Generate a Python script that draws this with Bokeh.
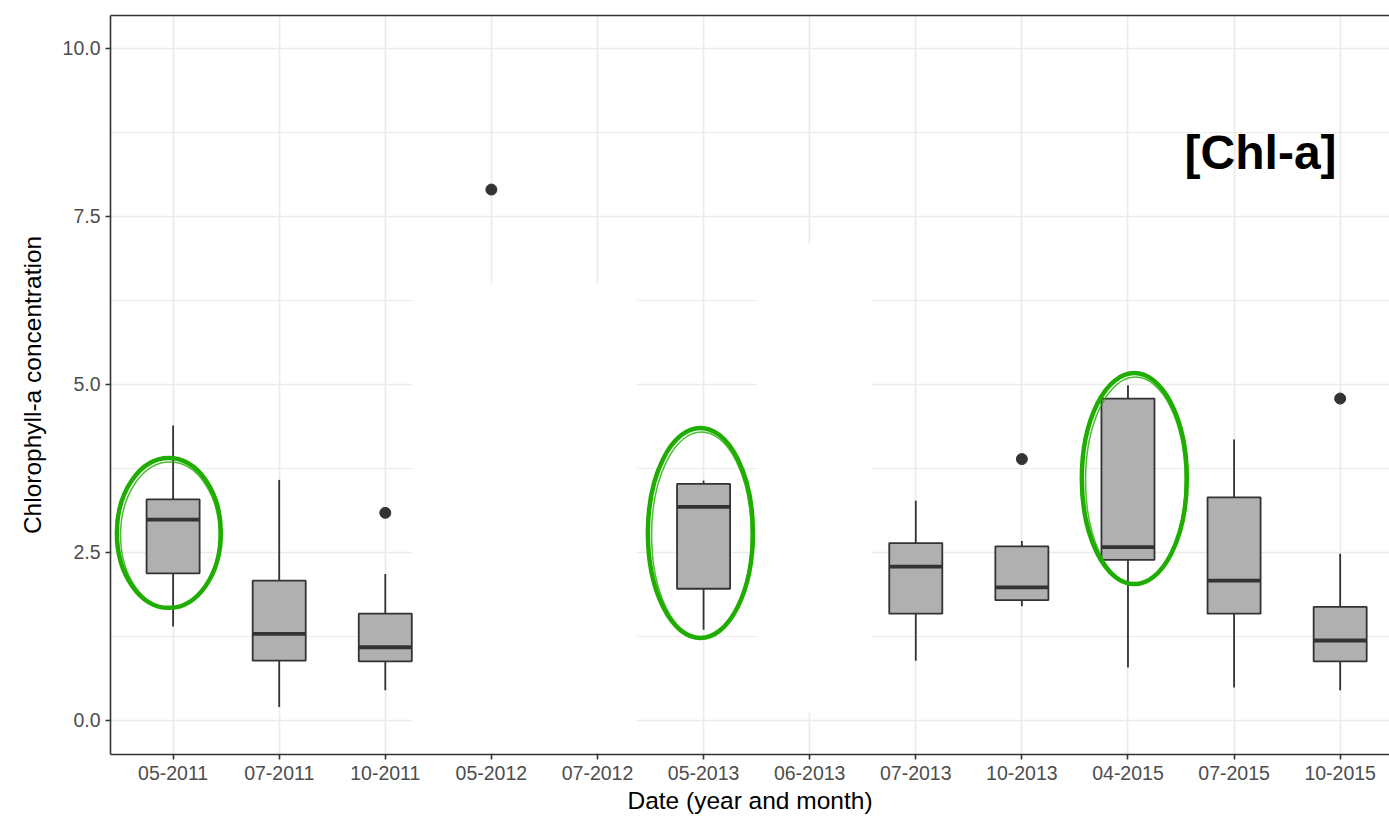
import numpy as np
from bokeh.plotting import figure
from bokeh.models import (Range1d, FixedTicker, LinearAxis, BoxAnnotation, Label,
                          PrintfTickFormatter)
from bokeh.embed import file_html
from bokeh.resources import INLINE

# ---------------- data ----------------
dates = ["05-2011", "07-2011", "10-2011", "05-2012", "07-2012", "05-2013",
         "06-2013", "07-2013", "10-2013", "04-2015", "07-2015", "10-2015"]

box_dates = ["05-2011", "07-2011", "10-2011", "05-2013", "07-2013",
             "10-2013", "04-2015", "07-2015", "10-2015"]
whisker_low = [1.40, 0.20, 0.45, 1.35, 0.89, 1.70, 0.79, 0.49, 0.45]
q1 = [2.19, 0.89, 0.88, 1.96, 1.59, 1.79, 2.39, 1.59, 0.88]
median = [2.99, 1.29, 1.09, 3.18, 2.29, 1.98, 2.58, 2.08, 1.19]
q3 = [3.29, 2.08, 1.59, 3.52, 2.64, 2.59, 4.79, 3.32, 1.69]
whisker_high = [4.39, 3.58, 2.18, 3.57, 3.27, 2.67, 4.99, 4.18, 2.48]

outlier_dates = ["10-2011", "05-2012", "10-2013", "10-2015"]
outlier_values = [3.09, 7.90, 3.89, 4.79]

circled_dates = ["05-2011", "05-2013", "04-2015"]

y_ticks = [0.0, 2.5, 5.0, 7.5, 10.0]
y_minor = [1.25, 3.75, 6.25, 8.75]

# ---------------- positions ----------------
pos = {d: i + 1 for i, d in enumerate(dates)}
bx = np.array([pos[d] for d in box_dates], dtype=float)
ox = [pos[d] for d in outlier_dates]
BOX_W = 0.5

p = figure(width=1389, height=817,
           x_range=Range1d(0.41, 12.465), y_range=Range1d(-0.506, 10.49),
           output_backend="svg", toolbar_location=None,
           min_border_left=110, min_border_right=0,
           min_border_top=15, min_border_bottom=63,
           background_fill_color="white", border_fill_color="white")
p.outline_line_color = None

FONT = "Liberation Sans"

# axes
p.xaxis.ticker = FixedTicker(ticks=list(range(1, len(dates) + 1)))
p.xaxis.major_label_overrides = {i + 1: d for i, d in enumerate(dates)}
p.yaxis.ticker = FixedTicker(ticks=y_ticks, minor_ticks=y_minor)
p.yaxis.formatter = PrintfTickFormatter(format="%.1f")

for ax in (p.xaxis[0], p.yaxis[0]):
    ax.axis_line_color = "#333333"
    ax.axis_line_width = 1.6
    ax.major_tick_line_color = "#333333"
    ax.major_tick_line_width = 1.6
    ax.major_tick_out = 5
    ax.major_tick_in = 0
    ax.minor_tick_line_color = None
    ax.major_label_text_font = FONT
    ax.major_label_text_font_size = "19.5px"
    ax.major_label_text_color = "#4D4D4D"
    ax.axis_label_text_font = FONT
    ax.axis_label_text_font_size = "24.5px"
    ax.axis_label_text_font_style = "normal"
    ax.axis_label_text_color = "black"

p.xaxis.axis_label = "Date (year and month)"
p.xaxis.major_label_standoff = 6
p.xaxis.axis_label_standoff = 4
p.yaxis.axis_label = "Chlorophyll-a concentration"
p.yaxis.major_label_standoff = 5
p.yaxis.axis_label_standoff = 14

# top border
top = LinearAxis(ticker=FixedTicker(ticks=[]), major_label_text_font_size="0px",
                 axis_line_color="#333333", axis_line_width=1.6,
                 major_tick_line_color=None, minor_tick_line_color=None)
p.add_layout(top, "above")

# grid
p.xgrid.grid_line_color = "#EBEBEB"
p.xgrid.grid_line_width = 1.7
p.ygrid.grid_line_color = "#EBEBEB"
p.ygrid.grid_line_width = 1.7
p.ygrid.minor_grid_line_color = "#EBEBEB"
p.ygrid.minor_grid_line_width = 1.2

# erased (white) regions of the original figure
for l, r, b, t in [(3.256, 5.376, -0.48, 6.50), (6.507, 7.58, 0.12, 7.10)]:
    p.add_layout(BoxAnnotation(left=l, right=r, bottom=b, top=t,
                               fill_color="white", fill_alpha=1.0,
                               line_color=None, level="underlay"))

# whiskers
p.segment(x0=bx, y0=q3, x1=bx, y1=whisker_high, line_color="#333333", line_width=1.8)
p.segment(x0=bx, y0=whisker_low, x1=bx, y1=q1, line_color="#333333", line_width=1.8)
# boxes
p.vbar(x=bx, bottom=q1, top=q3, width=BOX_W, fill_color="#B0B0B0",
       line_color="#333333", line_width=1.8)
# medians
p.segment(x0=bx - BOX_W / 2, y0=median, x1=bx + BOX_W / 2, y1=median,
          line_color="#333333", line_width=3.8)
# outliers
p.scatter(x=ox, y=outlier_values, size=11, color="#333333")

# hand-drawn green circles
cx = np.array([pos[d] for d in circled_dates], dtype=float) + np.array([-0.04, -0.03, 0.06])
cy = [2.79, 2.79, 3.60]
cw = [0.98, 0.99, 0.99]
ch = [2.23, 3.125, 3.14]
p.ellipse(x=cx, y=cy, width=cw, height=ch, fill_color=None,
          line_color="#1FAE00", line_width=4.5)
p.ellipse(x=cx + 0.01, y=np.array(cy) - 0.03, width=np.array(cw) - 0.05,
          height=np.array(ch) - 0.06, fill_color=None,
          line_color="#1FAE00", line_width=1.5, line_alpha=0.8)

p.add_layout(Label(x=11.25, y=8.45, text="[Chl-a]", text_font=FONT,
                   text_font_style="bold", text_font_size="48px",
                   text_align="center", text_baseline="alphabetic",
                   text_color="black"))

open("out.html", "w").write(file_html(p, INLINE))
